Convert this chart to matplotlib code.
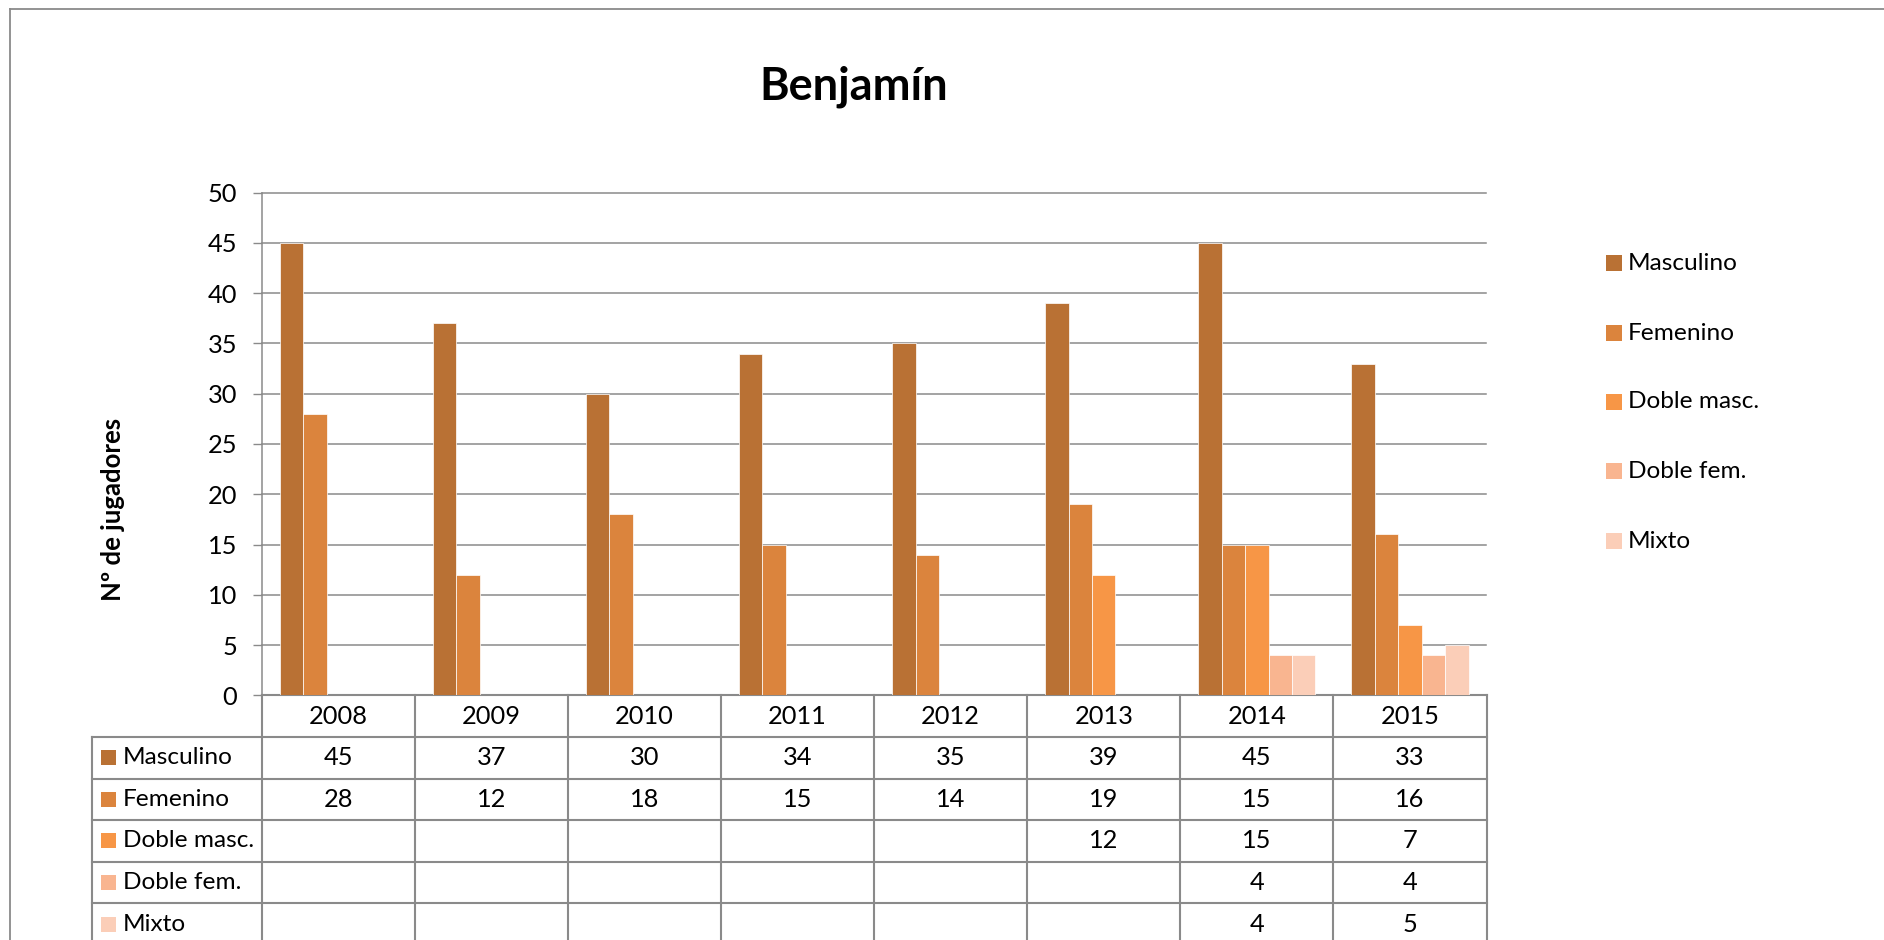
import matplotlib
matplotlib.use("Agg")
import matplotlib.pyplot as plt
import numpy as np

# ---------------- data ----------------
years = ["2008", "2009", "2010", "2011", "2012", "2013", "2014", "2015"]
series_names = ["Masculino", "Femenino", "Doble masc.", "Doble fem.", "Mixto"]
masculino = [45, 37, 30, 34, 35, 39, 45, 33]
femenino = [28, 12, 18, 15, 14, 19, 15, 16]
doble_masc = [None, None, None, None, None, 12, 15, 7]
doble_fem = [None, None, None, None, None, None, 4, 4]
mixto = [None, None, None, None, None, None, 4, 5]
title = "Benjamín"
ylabel = "Nº de jugadores"
yticks = [0, 5, 10, 15, 20, 25, 30, 35, 40, 45, 50]

series_values = [masculino, femenino, doble_masc, doble_fem, mixto]
colors = ["#B97134", "#DB843D", "#F79646", "#F9B590", "#FBCEB8"]

# ---------------- layout (pixels) ----------------
W, H = 1884, 940
FONT = "Lato"
GRAY = "#8a8a8a"
plt.rcParams["font.family"] = [FONT, "DejaVu Sans"]
FS_NUM = 18.3
FS_TXT = 17.6

L, R = 261.7, 1486.5       # plot area left / right
T, B = 192.7, 695.3        # y=50 / y=0
row_h = 41.6
tab_left = 92.0

fig = plt.figure(figsize=(W / 100, H / 100), dpi=100)
fig.patch.set_facecolor("white")

ax = fig.add_axes([L / W, 1 - B / H, (R - L) / W, (B - T) / H])
n = len(years)
x = np.arange(n)
bw = 0.153
for i, (name, vals, c) in enumerate(zip(series_names, series_values, colors)):
    v = np.array([np.nan if a is None else a for a in vals], dtype=float)
    ax.bar(x + (i - 2) * bw, v, width=bw, color=c, edgecolor="#ffffff",
           linewidth=0.5, label=name, zorder=3)

ax.set_xlim(-0.5, n - 0.5)
ax.set_ylim(0, 50)
ax.set_yticks(yticks)
ax.set_yticklabels([str(t) for t in yticks], fontsize=FS_NUM, color="#000000")
ax.tick_params(axis="y", length=6.5, width=1.0, color=GRAY, pad=11.0)
ax.set_xticks([])
ax.yaxis.grid(True, color=GRAY, linewidth=1.1, zorder=0)
for gl in ax.get_ygridlines():
    gl.set_clip_on(False)
for s in ["top", "right", "bottom"]:
    ax.spines[s].set_visible(False)
ax.spines["left"].set_color(GRAY)
ax.spines["left"].set_linewidth(1.1)
ax.set_facecolor("none")

# ---------------- overlay in pixel coordinates ----------------
ov = fig.add_axes([0, 0, 1, 1], zorder=-1)
ov.set_xlim(0, W)
ov.set_ylim(H, 0)
ov.axis("off")

# outer border (extends beyond the picture)
ov.plot([10, 10], [9, H + 5], color=GRAY, lw=1.3, clip_on=False)
ov.plot([10, W + 5], [9, 9], color=GRAY, lw=1.3, clip_on=False)

# title / y label
ov.text(853.5, 100, title, fontsize=32.5, fontweight="bold", ha="center",
        va="baseline", color="#000000")
ov.text(113, 509, ylabel, fontsize=18.5, fontweight="bold", rotation=90,
        ha="center", va="center", color="#000000")

# data table
colw = (R - L) / n
tlw = 1.5
n_rows = len(series_names)
y_rows = [B + row_h * (k + 1) for k in range(n_rows + 1)]
bottom = B + row_h * (n_rows + 1)
ov.plot([L, R], [B, B], color=GRAY, lw=tlw)
for yy in y_rows:
    ov.plot([tab_left, R], [yy, yy], color=GRAY, lw=tlw, clip_on=False)
for k in range(n + 1):
    xx = L + k * colw
    ov.plot([xx, xx], [B, bottom], color=GRAY, lw=tlw, clip_on=False)
ov.plot([tab_left, tab_left], [B + row_h, bottom], color=GRAY, lw=tlw,
        clip_on=False)

for k, yr in enumerate(years):
    ov.text(L + (k + 0.5) * colw, B + row_h * 0.5, yr, fontsize=FS_NUM,
            ha="center", va="center", color="#000000")
for r, (name, vals, c) in enumerate(zip(series_names, series_values, colors)):
    yc = B + row_h * (r + 1.5)
    ov.add_patch(plt.Rectangle((101, yc - 7.5), 14.5, 15, color=c, lw=0))
    ov.text(123, yc, name, fontsize=FS_TXT, ha="left", va="center",
            color="#000000")
    for k, v in enumerate(vals):
        if v is not None:
            ov.text(L + (k + 0.5) * colw, yc, str(v), fontsize=FS_NUM,
                    ha="center", va="center", color="#000000")

# legend
leg_y = [263, 333, 402, 471, 541]
for name, c, yy in zip(series_names, colors, leg_y):
    ov.add_patch(plt.Rectangle((1606, yy - 8), 16, 16, color=c, lw=0))
    ov.text(1628, yy, name, fontsize=FS_TXT, ha="left", va="center",
            color="#000000")

fig.savefig("out.png", dpi=100, facecolor="white")
